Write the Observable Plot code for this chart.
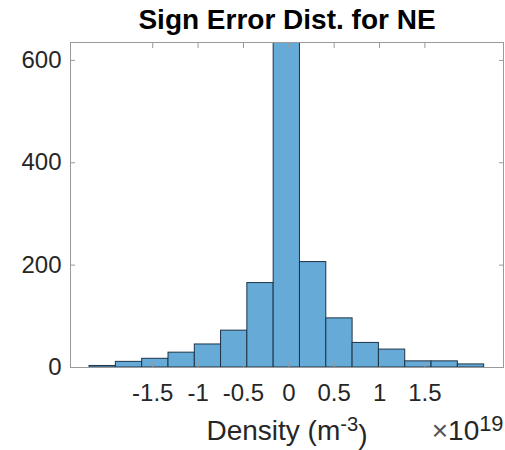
<!DOCTYPE html>
<html>
<head>
<meta charset="utf-8">
<script src="https://cdn.jsdelivr.net/npm/d3@7"></script>
<script src="https://cdn.jsdelivr.net/npm/@observablehq/plot@0.6"></script>
<style>
  html, body { margin: 0; padding: 0; background: #fff; }
</style>
</head>
<body>
<div id="chart"></div>
<script>
// Histogram bin edges (in units of 1e19 m^-3)
const binEdges = [-2.196, -1.906, -1.616, -1.326, -1.036, -0.747, -0.457, -0.167, 0.123, 0.413, 0.703, 0.993, 1.283, 1.573, 1.863, 2.153];
// Counts per bin (center bin exceeds the axis limit and is clipped)
const counts = [3, 11, 17, 29, 45, 72, 165, 1000, 206, 96, 48, 35, 12, 12, 6];
const xTicks = [-1.5, -1, -0.5, 0, 0.5, 1, 1.5];
const xTickLabels = ["-1.5", "-1", "-0.5", "0", "0.5", "1", "1.5"];
const yTicks = [0, 200, 400, 600];
const yTickLabels = ["0", "200", "400", "600"];
const titleText = "Sign Error Dist. for NE";
const xDomain = [-2.406, 2.366];
const yDomain = [0, 635];

const bins = counts.map((c, i) => ({x1: binEdges[i], x2: binEdges[i + 1], y: c}));

const gray = "#9a9a9a";
const ink = "#262626";

const chart = Plot.plot({
  width: 505,
  height: 450,
  marginLeft: 70,
  marginRight: 2,
  marginTop: 42,
  marginBottom: 83,
  style: {fontFamily: "'Liberation Sans', Arial, Helvetica, sans-serif", fontSize: "24px", color: ink, background: "white"},
  x: {domain: xDomain},
  y: {domain: yDomain},
  marks: [
    Plot.rectY(bins, {x1: "x1", x2: "x2", y: "y", fill: "#66aad7", stroke: "#1e3446", strokeWidth: 1, clip: true}),
    Plot.frame({stroke: gray}),
    Plot.axisX({ticks: xTicks, tickFormat: (d, i) => xTickLabels[i], tickSize: -5, tickPadding: 21, stroke: gray, fill: ink, label: null}),
    Plot.axisX({anchor: "top", ticks: xTicks, tickFormat: () => "", tickSize: -5, stroke: gray, label: null}),
    Plot.axisY({ticks: yTicks, tickFormat: (d, i) => yTickLabels[i], tickSize: -5, tickPadding: 14, stroke: gray, fill: ink, label: null}),
    Plot.axisY({anchor: "right", ticks: yTicks, tickFormat: () => "", tickSize: -5, stroke: gray, label: null}),
    Plot.text([titleText], {frameAnchor: "top", lineAnchor: "middle", dy: -22, fontWeight: "bold", fontSize: 28, fill: "#000"}),
    Plot.text(["Density (m-3)"], {frameAnchor: "bottom", lineAnchor: "middle", dy: 64, fontSize: 28, fill: ink}),
    Plot.text(["x10^19"], {frameAnchor: "bottom-right", lineAnchor: "middle", dy: 64, textAnchor: "end", fontSize: 28, fill: ink})
  ]
});

document.getElementById("chart").appendChild(chart);

// Rich text: superscripts
d3.select(chart).selectAll("text").each(function() {
  const t = d3.select(this);
  const s = this.textContent;
  if (s === "Density (m-3)") {
    t.text(null);
    t.append("tspan").text("Density (m");
    t.append("tspan").attr("dy", "-0.45em").attr("font-size", "0.72em").text("-3");
    t.append("tspan").attr("dy", "0.45em").attr("font-size", "1em").text(")");
  } else if (s === "x10^19") {
    t.text(null);
    t.append("tspan").attr("fill", "#555").text("\u00d7");
    t.append("tspan").text("10");
    t.append("tspan").attr("dy", "-0.45em").attr("font-size", "0.78em").text("19");
  }
});
</script>
</body>
</html>
